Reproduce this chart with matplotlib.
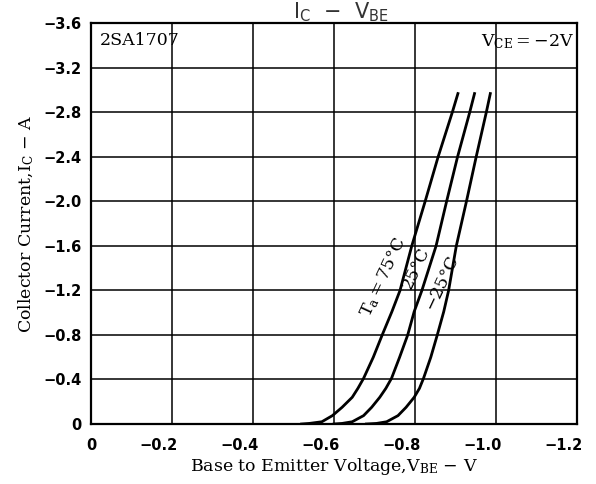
import matplotlib.pyplot as plt
from matplotlib.transforms import ScaledTranslation

plt.rcParams['mathtext.fontset'] = 'custom'
plt.rcParams['mathtext.rm'] = 'DejaVu Serif'
plt.rcParams['mathtext.it'] = 'DejaVu Serif:italic'
plt.rcParams['mathtext.sf'] = 'DejaVu Sans'

# collector current (A) at which the voltages below were read
ic = [0.0, -0.005, -0.02, -0.075, -0.15, -0.24, -0.32, -0.41, -0.60, -0.80, -1.01, -1.20, -1.60, -2.00, -2.40, -2.80, -2.97]
# base-emitter voltage (V) for each ambient temperature
vbe_75 = [-0.52, -0.539, -0.57, -0.596, -0.620, -0.645, -0.659, -0.673, -0.697, -0.719, -0.743, -0.763, -0.792, -0.825, -0.857, -0.892, -0.906]
vbe_25 = [-0.60, -0.62, -0.645, -0.673, -0.693, -0.713, -0.728, -0.742, -0.762, -0.782, -0.798, -0.817, -0.852, -0.878, -0.905, -0.935, -0.947]
vbe_m25 = [-0.68, -0.705, -0.73, -0.758, -0.778, -0.798, -0.811, -0.821, -0.839, -0.855, -0.871, -0.883, -0.902, -0.927, -0.951, -0.976, -0.986]

xticks = [0, -0.2, -0.4, -0.6, -0.8, -1.0, -1.2]
xlabels = ['0', '\u22120.2', '\u22120.4', '\u22120.6', '\u22120.8', '\u22121.0', '\u22121.2']
yticks = [0, -0.4, -0.8, -1.2, -1.6, -2.0, -2.4, -2.8, -3.2, -3.6]
ylabels = ['0', '\u22120.4', '\u22120.8', '\u22121.2', '\u22121.6', '\u22122.0', '\u22122.4', '\u22122.8', '\u22123.2', '\u22123.6']

fig = plt.figure(figsize=(5.96, 4.84), dpi=100)
ax = fig.add_axes([0.1527, 0.124, 0.8154, 0.8275])

for v in [vbe_75, vbe_25, vbe_m25]:
    ax.plot(v, ic, color='black', lw=2.0, solid_joinstyle='round')

ax.set_xlim(0, -1.2)
ax.set_ylim(0, -3.6)
ax.set_xticks(xticks)
ax.set_xticklabels(xlabels)
ax.set_yticks(yticks)
ax.set_yticklabels(ylabels)
ax.tick_params(axis='x', length=0, pad=10)
ax.tick_params(axis='y', length=0, pad=7)
for lab in ax.get_xticklabels() + ax.get_yticklabels():
    lab.set_fontfamily('DejaVu Sans')
    lab.set_fontsize(10.5)
    lab.set_fontweight('bold')
# minus signs hang to the left of the gridline in the original
shift = ScaledTranslation(-10 / 72, 0, fig.dpi_scale_trans)
for lab in ax.get_xticklabels()[1:]:
    lab.set_transform(lab.get_transform() + shift)

ax.grid(True, color='black', lw=1.1)
for s in ax.spines.values():
    s.set_linewidth(1.6)

serif = 'DejaVu Serif'
ax.set_xlabel(r'Base to Emitter Voltage,V$_{\rm BE}$ $-$ V', family=serif, fontsize=12.5, labelpad=2)
ax.set_ylabel(r'Collector Current,I$_{\rm C}$ $-$ A', family=serif, fontsize=12.5, labelpad=5)

ax.text(0.018, 0.978, '2SA1707', transform=ax.transAxes, family=serif, fontsize=12.5,
        ha='left', va='top')
ax.text(0.995, 0.978, r'V$_{\rm CE}$$=-$2V', transform=ax.transAxes, family=serif, fontsize=12.5,
        ha='right', va='top')

ax.text(-0.722, -1.318, r'T$_{\rm a}$$=$75°C', family=serif, fontsize=12.5, rotation=65,
        ha='center', va='center')
ax.text(-0.803, -1.40, '25°C', family=serif, fontsize=12.5, rotation=65,
        ha='center', va='center')
ax.text(-0.866, -1.27, '\u221225°C', family=serif, fontsize=12.5, rotation=65,
        ha='center', va='center')

fig.text(341 / 596, 1 - 18 / 484, r'$\mathsf{I_C}$  $-$  $\mathsf{V_{BE}}$', family='DejaVu Sans',
         fontsize=15, color='#333333', ha='center', va='baseline')

fig.savefig('out.png', dpi=100)
